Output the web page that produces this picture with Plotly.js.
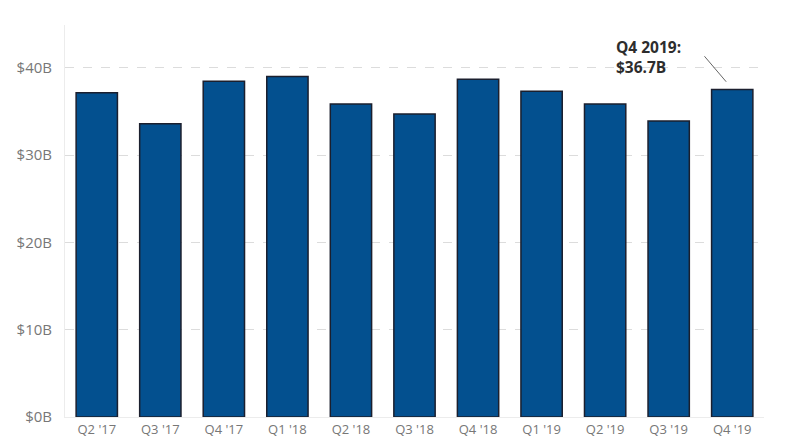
<!DOCTYPE html>
<html>
<head>
<meta charset="utf-8">
<script src="https://cdn.plot.ly/plotly-3.0.1.min.js"></script>
<style>html,body{margin:0;padding:0;background:#fff;}#chart{width:800px;height:445px;}</style>
</head>
<body>
<div id="chart"></div>
<script>
const quarters = ["Q2 '17","Q3 '17","Q4 '17","Q1 '18","Q2 '18","Q3 '18","Q4 '18","Q1 '19","Q2 '19","Q3 '19","Q4 '19"];
const revenueB = [37.15, 33.6, 38.45, 39.0, 35.85, 34.7, 38.7, 37.3, 35.85, 33.9, 37.5];
const yTicks = [0, 10, 20, 30, 40];
const yTickLabels = ['$0B', '$10B', '$20B', '$30B', '$40B'];
const calloutText = "Q4 2019:<br>$36.7B";

const trace = {
  type: 'bar',
  x: quarters,
  y: revenueB,
  marker: {color: '#03508f', line: {color: '#1b1f2e', width: 1.5}},
  hoverinfo: 'x+y'
};

const layout = {
  width: 800, height: 445,
  margin: {l: 65, r: 36, t: 25, b: 28},
  paper_bgcolor: '#fff', plot_bgcolor: '#fff',
  bargap: 0.35,
  showlegend: false,
  font: {family: 'Open Sans, sans-serif', color: '#777', size: 14},
  xaxis: {
    type: 'category',
    showgrid: false,
    showline: true, linecolor: '#ececec', linewidth: 1,
    ticks: '', tickfont: {size: 13, color: '#777'},
    zeroline: false
  },
  yaxis: {
    range: [0, 44.9],
    tickmode: 'array',
    tickvals: yTicks,
    ticktext: yTickLabels,
    showgrid: true, gridcolor: '#dcdcdc', griddash: 'dash', gridwidth: 1,
    showline: true, linecolor: '#ececec', linewidth: 1,
    zeroline: false,
    ticks: '', ticklabelstandoff: 9,
    tickfont: {size: 15, color: '#777'}
  },
  annotations: [
    {
      xref: 'paper', yref: 'paper',
      x: 0.786, y: 0.978, xanchor: 'left', yanchor: 'top',
      text: '<b>' + calloutText + '</b>', showarrow: false, align: 'left',
      font: {size: 15.5, color: '#2d2d2d', family: 'Open Sans, sans-serif'}
    },
    {
      xref: 'x', yref: 'y',
      x: 9.905, y: 38.4, ax: -23, ay: -27,
      text: '', showarrow: true, arrowhead: 0, arrowwidth: 1, arrowcolor: '#666'
    }
  ]
};

Plotly.newPlot('chart', [trace], layout, {displayModeBar: false, staticPlot: true});
</script>
</body>
</html>
